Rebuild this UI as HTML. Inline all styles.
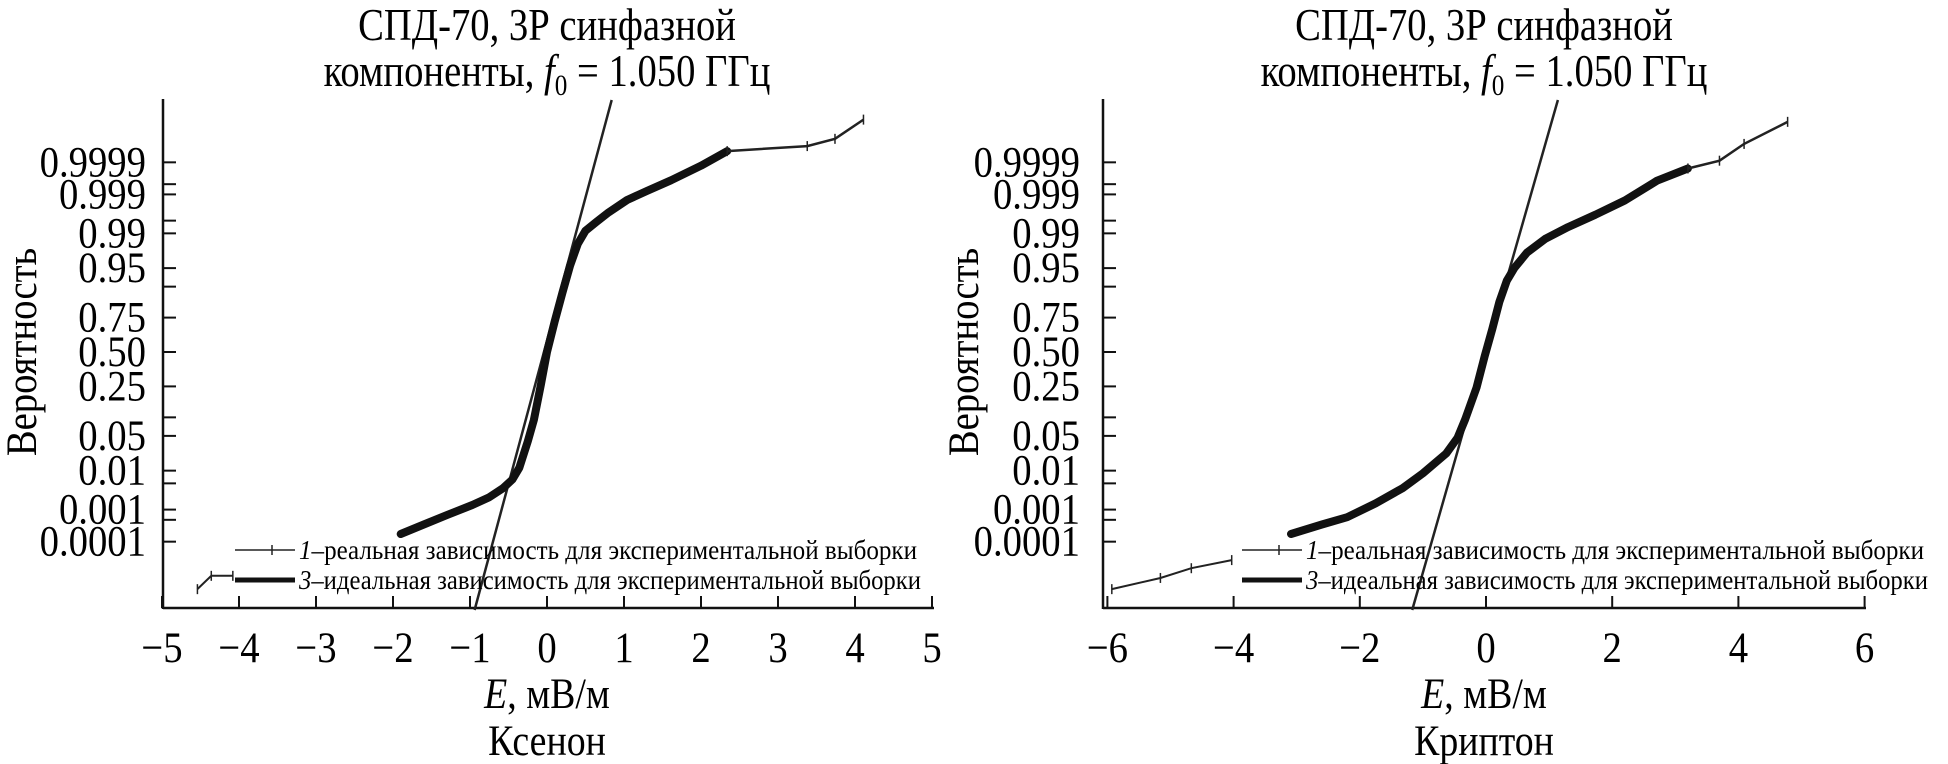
<!DOCTYPE html>
<html><head><meta charset="utf-8"><style>
html,body{margin:0;padding:0;background:#fff;}
svg{display:block;font-family:"Liberation Serif",serif;}
</style></head><body>
<svg id="root" width="1948" height="764" viewBox="0 0 1948 764"></svg>
<script>
// ---------- data ----------
const yTickValues = [0.9999, 0.999, 0.99, 0.95, 0.75, 0.50, 0.25, 0.05, 0.01, 0.001, 0.0001];
const yTickLabels = ["0.9999","0.999","0.99","0.95","0.75","0.50","0.25","0.05","0.01","0.001","0.0001"];
const yMinorTicks = [0.9995, 0.995, 0.9, 0.1, 0.005, 0.0005];

const xeTicks = [-5,-4,-3,-2,-1,0,1,2,3,4,5];
const xeLabels = ["\u22125","\u22124","\u22123","\u22122","\u22121","0","1","2","3","4","5"];
const krTicks = [-6,-4,-2,0,2,4,6];
const krLabels = ["\u22126","\u22124","\u22122","0","2","4","6"];

// Xenon: real dependence
const xeTailE = [-4.54, -4.36, -4.08];
const xeTailP = [0.00000166, 0.0000057, 0.0000057];
const xeCoreE = [-1.90, -1.6, -1.3, -0.97, -0.75, -0.57, -0.45, -0.36, -0.25, -0.17, -0.08, 0.0, 0.1, 0.2, 0.3, 0.4, 0.5, 0.64, 0.8, 1.04, 1.3, 1.61, 2.0, 2.34];
const xeCoreP = [0.00018, 0.00036, 0.00069, 0.00135, 0.0022, 0.0038, 0.0062, 0.0116, 0.040, 0.092, 0.258, 0.5, 0.726, 0.877, 0.955, 0.983, 0.9913, 0.9946, 0.9969, 0.99856, 0.99921, 0.99962, 0.99987, 0.999959];
const xeUpperE = [2.34, 3.38, 3.74, 4.11];
const xeUpperP = [0.999959, 0.999973, 0.9999854, 0.9999974];
const xeIdealE = [-0.94, 0.84];
const xeIdealP = [0.00000021, 0.99999961];

// Krypton: real dependence
const krTailE = [-5.93, -5.16, -4.67, -4.03];
const krTailP = [0.00000166, 0.0000047, 0.0000112, 0.0000225];
const krCoreE = [-3.09, -2.6, -2.2, -1.75, -1.32, -1.0, -0.63, -0.45, -0.33, -0.15, -0.02, 0.1, 0.21, 0.33, 0.45, 0.65, 0.94, 1.3, 1.73, 2.2, 2.71, 3.2];
const krCoreP = [0.00018, 0.00036, 0.0006, 0.0015, 0.0038, 0.0087, 0.0233, 0.0465, 0.0934, 0.242, 0.468, 0.674, 0.836, 0.919, 0.9505, 0.9744, 0.9868, 0.99285, 0.99643, 0.99851, 0.99961, 0.99984];
const krUpperE = [3.20, 3.70, 4.09, 4.78];
const krUpperP = [0.99984, 0.999912, 0.9999775, 0.9999968];
const krIdealE = [-1.17, 1.14];
const krIdealP = [0.00000021, 0.99999961];

// ---------- helpers ----------
const NS = "http://www.w3.org/2000/svg";
const root = document.getElementById('root');
function mk(tag, attrs, parent){
  const e = document.createElementNS(NS, tag);
  for (const k in attrs) e.setAttribute(k, attrs[k]);
  (parent||root).appendChild(e);
  return e;
}
function txt(parent, x, y, size, anchor, sx, html){
  const t = mk('text', {x: 0, y: 0, 'font-size': size, 'text-anchor': anchor, transform: `translate(${x},${y}) scale(${sx},1)`}, parent);
  t.innerHTML = html;
  return t;
}
function probit(p){
  const a=[-39.69683028665376,220.9460984245205,-275.9285104469687,138.3577518672690,-30.66479806614716,2.506628277459239];
  const b=[-54.47609879822406,161.5858368580409,-155.6989798598866,66.80131188771972,-13.28068155288572];
  const c=[-0.007784894002430293,-0.3223964580411365,-2.400758277161838,-2.549732539343734,4.374664141464968,2.938163982698783];
  const d=[0.007784695709041462,0.3224671290700398,2.445134137142996,3.754408661907416];
  const pl=0.02425;
  let q,r;
  if(p<pl){q=Math.sqrt(-2*Math.log(p));return (((((c[0]*q+c[1])*q+c[2])*q+c[3])*q+c[4])*q+c[5])/((((d[0]*q+d[1])*q+d[2])*q+d[3])*q+1);}
  if(p>1-pl){q=Math.sqrt(-2*Math.log(1-p));return -(((((c[0]*q+c[1])*q+c[2])*q+c[3])*q+c[4])*q+c[5])/((((d[0]*q+d[1])*q+d[2])*q+d[3])*q+1);}
  q=p-0.5;r=q*q;
  return (((((a[0]*r+a[1])*r+a[2])*r+a[3])*r+a[4])*r+a[5])*q/(((((b[0]*r+b[1])*r+b[2])*r+b[3])*r+b[4])*r+1);
}

function drawChart(cfg){
  const g = mk('g', {});
  
  
  const X = e => cfg.x0 + cfg.kx * e;
  const Y = p => 352 - 51 * probit(p);
  const axisY = 608, topY = 99;

  const t1 = txt(g, cfg.tcx, 40, 46, 'middle', 0.84, "СПД-70, 3Р синфазной");
  
  
  const t2 = txt(g, cfg.tcx, 86, 46, 'middle', 0.84, 'компоненты, <tspan font-style="italic">f</tspan><tspan font-size="30" dy="9">0</tspan><tspan dy="-9"> = 1.050 ГГц</tspan>');
  
  

  const ya = mk('line', {x1: cfg.ax, y1: topY, x2: cfg.ax, y2: axisY+1, stroke: '#111', 'stroke-width': 2.5}, g);
  
  
  const xa = mk('line', {x1: cfg.ax, y1: axisY, x2: cfg.axEnd, y2: axisY, stroke: '#111', 'stroke-width': 2.5}, g);
  
  

  yTickValues.forEach((v, i) => {
    const y = Y(v);
    const tk = mk('line', {x1: cfg.ax, y1: y, x2: cfg.ax+13, y2: y, stroke: '#111', 'stroke-width': 2}, g);
    
    
    const tl = txt(g, cfg.ylx, y+14, 43, 'end', 0.9, yTickLabels[i]);
    
    
  });
  yMinorTicks.forEach(v => {
    const y = Y(v);
    const tk = mk('line', {x1: cfg.ax, y1: y, x2: cfg.ax+13, y2: y, stroke: '#111', 'stroke-width': 2}, g);
    
    
  });
  cfg.xt.forEach((v, i) => {
    const x = X(v);
    const tk = mk('line', {x1: x, y1: axisY, x2: x, y2: axisY-12, stroke: '#111', 'stroke-width': 2}, g);
    
    
    const tl = txt(g, x, 662, 43, 'middle', 0.9, cfg.xl[i]);
    
    
  });

  const xt = txt(g, cfg.tcx, 708, 43, 'middle', 0.88, '<tspan font-style="italic">E</tspan>, мВ/м');
  
  
  const gas = txt(g, cfg.tcx, 755, 43, 'middle', 0.88, cfg.gas);
  
  
  const yt = mk('text', {x: 0, y: 0, 'font-size': 43, 'text-anchor': 'middle', transform: `translate(${cfg.ytx},352) rotate(-90) scale(0.9,1)`}, g);
  yt.textContent = "Вероятность";
  
  

  const pts = (E, P) => E.map((e, i) => X(e).toFixed(1)+','+Y(P[i]).toFixed(1)).join(' ');

  const il = mk('polyline', {points: pts(cfg.idealE, cfg.idealP), fill: 'none', stroke: '#222', 'stroke-width': 2.5}, g);
  
  

  const rt = mk('polyline', {points: pts(cfg.tailE, cfg.tailP), fill: 'none', stroke: '#222', 'stroke-width': 2}, g);
  
  
  const rc = mk('polyline', {points: pts(cfg.coreE, cfg.coreP), fill: 'none', stroke: '#111', 'stroke-width': 8, 'stroke-linejoin': 'round', 'stroke-linecap': 'round'}, g);
  
  
  const ru = mk('polyline', {points: pts(cfg.upE, cfg.upP), fill: 'none', stroke: '#222', 'stroke-width': 2.5}, g);
  
  
  [[cfg.tailE, cfg.tailP], [cfg.upE, cfg.upP]].forEach(([E, P]) => {
    E.forEach((e, i) => {
      const m = mk('line', {x1: X(e), y1: Y(P[i])-5, x2: X(e), y2: Y(P[i])+5, stroke: '#222', 'stroke-width': 1.5}, g);
      
      
    });
  });

  const lg = mk('g', {}, g);
  
  
  const l1 = mk('line', {x1: cfg.lgx, y1: 550, x2: cfg.lgx+60, y2: 550, stroke: '#222', 'stroke-width': 1.5}, lg);
  
  
  mk('line', {x1: cfg.lgx+37, y1: 545, x2: cfg.lgx+37, y2: 555, stroke: '#222', 'stroke-width': 1.5}, lg);
  const lt1 = mk('text', {x: cfg.lgx+64, y: 559, 'font-size': 27, textLength: 618, lengthAdjust: 'spacingAndGlyphs'}, lg);
  lt1.innerHTML = '<tspan font-style="italic">1</tspan>–реальная зависимость для экспериментальной выборки';
  
  
  const l2 = mk('line', {x1: cfg.lgx, y1: 580, x2: cfg.lgx+60, y2: 580, stroke: '#111', 'stroke-width': 5}, lg);
  
  
  const lt2 = mk('text', {x: cfg.lgx+64, y: 589, 'font-size': 27, textLength: 622, lengthAdjust: 'spacingAndGlyphs'}, lg);
  lt2.innerHTML = '<tspan font-style="italic">3</tspan>–идеальная зависимость для экспериментальной выборки';
  
  
}

drawChart({name:'xenon-chart', gas:'Ксенон', x0:547, kx:77, ax:163, axEnd:934, tcx:547, ylx:146, ytx:36, lgx:235,
  xt:xeTicks, xl:xeLabels, tailE:xeTailE, tailP:xeTailP, coreE:xeCoreE, coreP:xeCoreP, upE:xeUpperE, upP:xeUpperP,
  idealE:xeIdealE, idealP:xeIdealP});
drawChart({name:'krypton-chart', gas:'Криптон', x0:1486, kx:63.1, ax:1103, axEnd:1866, tcx:1484, ylx:1080, ytx:978, lgx:1242,
  xt:krTicks, xl:krLabels, tailE:krTailE, tailP:krTailP, coreE:krCoreE, coreP:krCoreP, upE:krUpperE, upP:krUpperP,
  idealE:krIdealE, idealP:krIdealP});
</script>
</body></html>
